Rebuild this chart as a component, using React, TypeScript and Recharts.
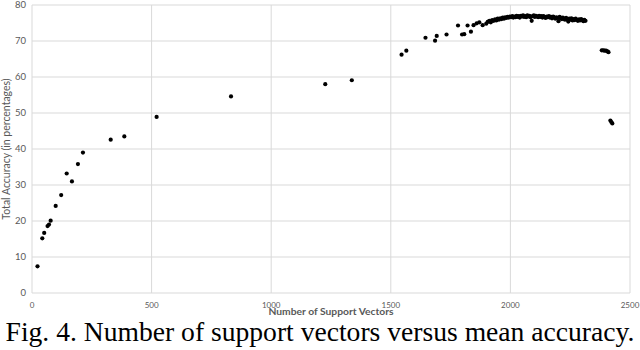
import { ScatterChart, Scatter, XAxis, YAxis, CartesianGrid } from 'recharts';

// number of support vectors (x) and total accuracy in % (y)
const supportVectors = [
  23, 43, 51, 65, 71, 78, 99, 122, 145, 167, 192, 213, 329, 386, 521, 832, 1226, 1337,
  1545, 1565, 1645, 1685, 1692, 1733, 1781, 1798, 1807, 1821, 1835, 1846, 1859, 1870, 1884, 1899,
  1905, 1912, 1918, 1924, 1930, 1936, 1941, 1947, 1952, 1958, 1963, 1968, 1973, 1978, 1983, 1988,
  1993, 1998, 2003, 2008, 2012, 2017, 2021, 2026, 2030, 2035, 2039, 2044, 2048, 2053, 2057, 2062,
  2066, 2071, 2075, 2080, 2084, 2089, 2093, 2098, 2102, 2107, 2111, 2116, 2120, 2125, 2129, 2134,
  2138, 2143, 2147, 2152, 2156, 2161, 2165, 2170, 2174, 2179, 2183, 2188, 2192, 2197, 2201, 2206,
  2210, 2215, 2219, 2224, 2228, 2233, 2237, 2242, 2246, 2251, 2255, 2260, 2264, 2269, 2273, 2278,
  2282, 2287, 2291, 2296, 2300, 2305, 2309, 2314,
  2382, 2388, 2394, 2400, 2406, 2410, 2418, 2422, 2426,
];

const accuracies = [
  7.4, 15.2, 16.7, 18.6, 19.0, 20.1, 24.2, 27.2, 33.2, 31.0, 35.8, 39.0, 42.6, 43.5, 48.9, 54.6, 58.0, 59.1,
  66.2, 67.3, 70.9, 70.1, 71.4, 71.8, 74.3, 71.8, 71.9, 74.3, 72.6, 74.4, 74.9, 75.2, 74.4, 74.8,
  75.3, 75.6, 75.2, 75.8, 75.6, 76.0, 75.7, 76.2, 75.9, 76.3, 76.1, 76.5, 76.2, 76.6, 76.4, 76.7,
  76.5, 76.8, 76.6, 76.9, 76.5, 76.8, 76.6, 77.0, 76.7, 76.9, 76.5, 77.0, 76.8, 77.1, 76.7, 76.9,
  76.6, 77.1, 76.8, 77.0, 76.6, 75.6, 76.9, 77.1, 76.7, 77.0, 76.8, 76.6, 77.0, 76.7, 76.9, 76.5,
  76.9, 76.7, 76.4, 76.8, 76.6, 76.9, 76.5, 76.7, 76.3, 76.8, 76.5, 76.2, 76.6, 76.4, 75.5, 76.7,
  76.3, 76.1, 76.5, 76.2, 75.9, 76.4, 76.0, 75.4, 76.2, 75.9, 76.3, 75.7, 76.1, 75.8, 76.2, 75.9,
  75.6, 76.0, 75.7, 76.1, 75.8, 75.5, 75.9, 75.6,
  67.4, 67.4, 67.3, 67.3, 67.1, 66.9, 47.9, 47.5, 47.1,
];

const xTicks = [0, 500, 1000, 1500, 2000, 2500];
const yTicks = [0, 10, 20, 30, 40, 50, 60, 70, 80];

const points = supportVectors.map((sv, i) => ({ sv, acc: accuracies[i] }));

const font = 'Lato, sans-serif';
const xTickStyle = { fontSize: 8, fill: '#595959', fontFamily: font };
const yTickStyle = { fontSize: 9.5, fill: '#595959', fontFamily: font };

const Dot = (props: any) => <circle cx={props.cx} cy={props.cy} r={2.1} fill="#000" />;

// rotated y title, centred on the plot height
const YTitle = (props: any) => {
  const vb = props.viewBox || {};
  const cy = (vb.y || 0) + (vb.height || 0) / 2;
  const cx = 6;
  return (
    <text
      x={cx}
      y={cy}
      transform={`rotate(-90, ${cx}, ${cy})`}
      textAnchor="middle"
      dominantBaseline="central"
      fontSize={10.5}
      fill="#595959"
      fontFamily={font}
    >
      Total Accuracy (in percentages)
    </text>
  );
};

export default function App() {
  return (
    <div style={{ position: 'relative', width: 640, height: 350, background: '#fff' }}>
      <style>{'body{margin:0}'}</style>
      <ScatterChart width={640} height={320} margin={{ top: 5, right: 10, left: 0, bottom: 7 }}>
        <CartesianGrid stroke="#d9d9d9" strokeWidth={1} />
        <XAxis
          type="number"
          dataKey="sv"
          domain={[0, 2500]}
          ticks={xTicks}
          axisLine={false}
          tickLine={false}
          tickSize={0}
          tickMargin={9}
          tick={xTickStyle}
          height={20}
          label={{
            value: 'Number of Support Vectors',
            position: 'insideBottom',
            offset: -2,
            style: { fontSize: 10.3, fill: '#595959', fontWeight: 700, fontFamily: font },
          }}
        />
        <YAxis
          type="number"
          dataKey="acc"
          domain={[0, 80]}
          ticks={yTicks}
          axisLine={false}
          tickLine={false}
          tickSize={0}
          tickMargin={6}
          tick={yTickStyle}
          width={32}
          label={<YTitle />}
        />
        <Scatter data={points} shape={Dot} isAnimationActive={false} />
      </ScatterChart>
      <div
        style={{
          position: 'absolute',
          top: 318,
          left: 0,
          width: 640,
          fontFamily: '"Liberation Serif", "Times New Roman", serif',
          fontSize: 27.6,
          textAlign: 'center',
          lineHeight: '28px',
          whiteSpace: 'nowrap',
          color: '#000',
        }}
      >
        Fig. 4. Number of support vectors versus mean accuracy.
      </div>
    </div>
  );
}
